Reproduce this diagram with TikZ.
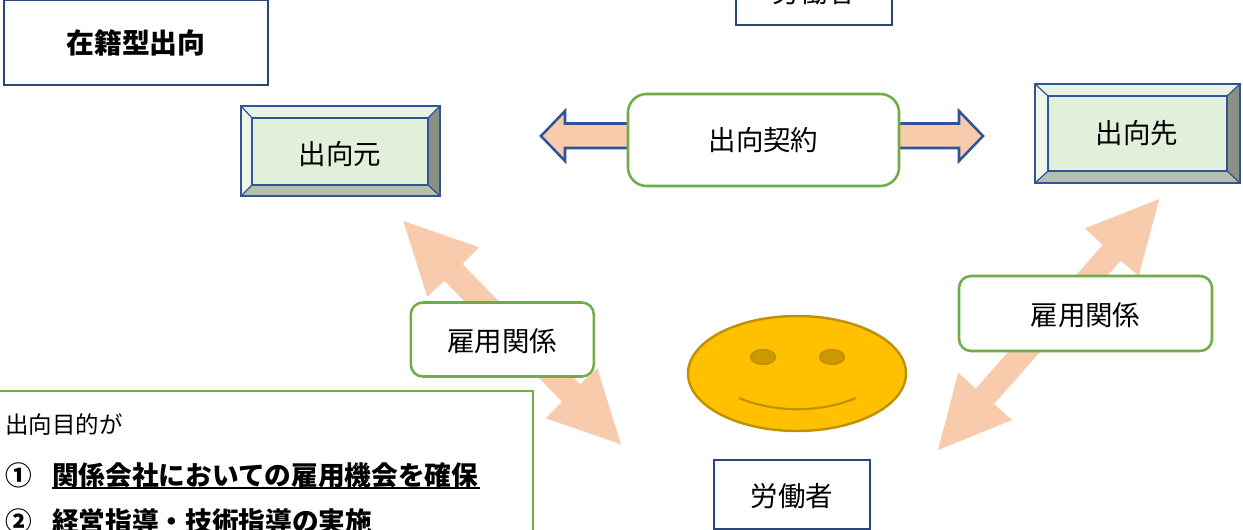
\documentclass[tikz,border=0pt]{standalone}
\usepackage{fontspec}
\setmainfont{Noto Sans CJK JP}
\usetikzlibrary{shapes.geometric}
\definecolor{gr}{HTML}{70AD47}
\definecolor{bl}{HTML}{2F5597}
\definecolor{nv}{HTML}{2A4676}
\definecolor{pe}{HTML}{F8CBAD}
\definecolor{face}{HTML}{E2EFDA}
\definecolor{btop}{HTML}{E9F3E3}
\definecolor{bleft}{HTML}{EEF6E9}
\definecolor{bright}{HTML}{8A9082}
\definecolor{bbot}{HTML}{B5BFAE}
\definecolor{smile}{HTML}{FFC000}
\definecolor{smileline}{HTML}{BF9000}
\definecolor{eye}{HTML}{CC9A00}
\tikzset{
  lbl/.style={font=\fontsize{20.6}{24}\selectfont, text=black},
  lowtext/.style={text height=19pt, text depth=0.9pt},
  plainbox/.style={draw=nv, line width=2.1pt, fill=white, inner sep=0pt, lbl},
  roundbox/.style={draw=gr, line width=1.9pt, fill=white, rounded corners=9pt, inner sep=0pt, lbl},
  facebox/.style={draw=bl, line width=2.1pt, fill=face, inner sep=0pt, lbl},
  blockarrow/.style={fill=pe, draw=none},
  outlinearrow/.style={fill=pe, draw=bl, line width=1.9pt, line join=miter},
  bev/.style={draw=bl, line width=0.9pt},
  listtext/.style={anchor=west, inner sep=0pt, font=\fontsize{20}{24}\selectfont\bfseries, text=black},
  eyeshape/.style={ellipse, draw=smileline, line width=1.2pt, fill=eye, minimum width=18.5pt, minimum height=11pt, inner sep=0pt}
}
\begin{document}
\begin{tikzpicture}[x=0.75pt,y=-0.75pt]
\useasboundingbox (0,0) rectangle (1243,530);
\clip (0,0) rectangle (1243,530);
\fill[white] (0,0) rectangle (1243,530);

% contract arrow
\draw[outlinearrow] (541,136) -- (565,111) -- (565,123.5) -- (959,123.5) -- (959,111) -- (983,136) -- (959,161) -- (959,148) -- (565,148) -- (565,161) -- cycle;

% diagonal arrows
\fill[blockarrow] (403.3,221) -- (479,247.3) -- (462.3,264) -- (580,384.3) -- (597.3,368.3) -- (621,444.3) -- (545.7,418.3) -- (562,401.7) -- (444.3,280.7) -- (427.3,296.7) -- cycle;
\fill[blockarrow] (1159.3,199) -- (1138.7,275.7) -- (1120.7,260.7) -- (994,404) -- (1012,420) -- (938,450) -- (958.3,372.7) -- (975.7,388.7) -- (1102.7,245) -- (1085,228.3) -- cycle;

% bevel box: source
\fill[btop] (241,106) -- (440,106) -- (428,118) -- (252,118) -- cycle;
\fill[bleft] (241,106) -- (252,118) -- (252,185) -- (241,196) -- cycle;
\fill[bright] (440,106) -- (428,118) -- (428,185) -- (440,196) -- cycle;
\fill[bbot] (241,196) -- (252,185) -- (428,185) -- (440,196) -- cycle;
\draw[bev] (241,106) -- (252,118) (440,106) -- (428,118) (241,196) -- (252,185) (440,196) -- (428,185);
\draw[draw=bl, line width=2.1pt] (241,106) rectangle (440,196);
\node[facebox, minimum width=132pt, minimum height=50.25pt] (src) at (340,151.5) {};
\node[lbl] (srct) at (340,154) {出向元};

% bevel box: destination
\fill[btop] (1035,84) -- (1240,84) -- (1227,96) -- (1048,96) -- cycle;
\fill[bleft] (1035,84) -- (1048,96) -- (1048,171) -- (1035,183) -- cycle;
\fill[bright] (1240,84) -- (1227,96) -- (1227,171) -- (1240,183) -- cycle;
\fill[bbot] (1035,183) -- (1048,171) -- (1227,171) -- (1240,183) -- cycle;
\draw[bev] (1035,84) -- (1048,96) (1240,84) -- (1227,96) (1035,183) -- (1048,171) (1240,183) -- (1227,171);
\draw[draw=bl, line width=2.1pt] (1035,84) rectangle (1240,183);
\node[facebox, minimum width=134.25pt, minimum height=56.25pt] (dst) at (1137.5,133.5) {};
\node[lbl] (dstt) at (1137,133) {出向先};

% plain boxes
\node[plainbox, font=\fontsize{20.9}{24}\selectfont\bfseries, minimum width=198pt, minimum height=63.75pt] (kind) at (136,42.5) {在籍型出向};
\node[plainbox, lowtext, minimum width=117pt, minimum height=51.75pt] (wtop) at (814,-9.5) {労働者};
\node[plainbox, lowtext, minimum width=117pt, minimum height=51.75pt] (wbot) at (792,494.5) {労働者};

% rounded labels
\node[roundbox, rounded corners=14pt, minimum width=203.25pt, minimum height=69pt] (contract) at (763.5,140) {出向契約};
\node[roundbox, lowtext, minimum width=137.25pt, minimum height=55.5pt] (empl) at (502.3,339.5) {雇用関係};
\node[roundbox, lowtext, minimum width=189.75pt, minimum height=56.25pt] (empr) at (1085.5,313.5) {雇用関係};

% face
\node[ellipse, draw=smileline, line width=1.8pt, fill=smile, minimum width=163.5pt, minimum height=86.25pt, inner sep=0pt] (face) at (797,373.5) {};
\node[eyeshape] (eyel) at (763,357) {};
\node[eyeshape] (eyer) at (832,357) {};
\coordinate (smilel) at (739,398);
\coordinate (smiler) at (856,398);
\draw[smileline, line width=1.6pt] (smilel) .. controls (775,413) and (820,413) .. (smiler);

% purpose box
\node[draw=gr, line width=2.1pt, fill=white, minimum width=420pt, minimum height=300pt, inner sep=0pt] (purpose) at (253,591) {};
\node[anchor=west, inner sep=0pt, font=\fontsize{17.6}{20}\selectfont, text=black] (p0) at (5,425) {出向目的が};
\node[listtext] (n1) at (5,475) {①};
\node[listtext] (p1) at (52,475) {関係会社においての雇用機会を確保};
\coordinate (ula) at (52,488);
\coordinate (ulb) at (480,488);
\draw[black, line width=1.3pt] (ula) -- (ulb);
\node[listtext] (n2) at (5,521) {②};
\node[listtext] (p2) at (52,521) {経営指導・技術指導の実施};
\end{tikzpicture}
\end{document}
